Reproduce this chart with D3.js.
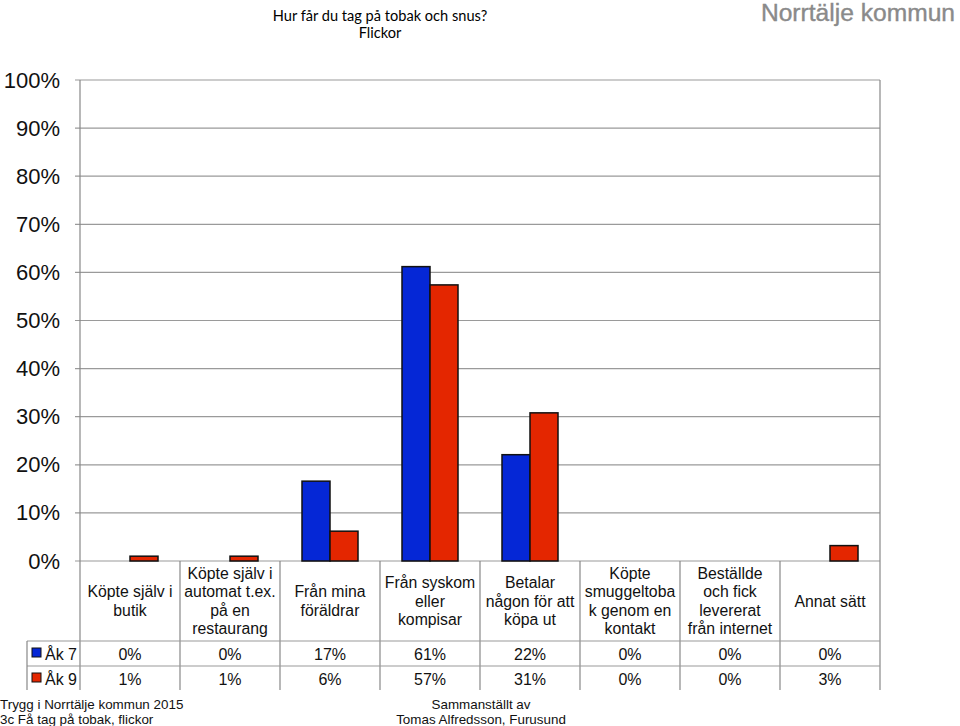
<!DOCTYPE html>
<html>
<head>
<meta charset="utf-8">
<script src="https://cdn.jsdelivr.net/npm/d3@7"></script>
<style>
  body { margin: 0; background: #fff; }
  text { font-family: "Liberation Sans", Arial, sans-serif; }
</style>
</head>
<body>
<div id="chart"></div>
<script>
var categories = [
    ["Köpte själv i", "butik"],
    ["Köpte själv i", "automat t.ex.", "på en", "restaurang"],
    ["Från mina", "föräldrar"],
    ["Från syskom", "eller", "kompisar"],
    ["Betalar", "någon för att", "köpa ut"],
    ["Köpte", "smuggeltoba", "k genom en", "kontakt"],
    ["Beställde", "och fick", "levererat", "från internet"],
    ["Annat sätt"]
];
var seriesNames = ["Åk 7", "Åk 9"];
var seriesColors = ["#0527d6", "#e42600"];
var ak7 = [0, 0, 16.6, 61.2, 22.1, 0, 0, 0];
var ak9 = [1.0, 1.0, 6.2, 57.4, 30.8, 0, 0, 3.2];
var yTicks = [0, 10, 20, 30, 40, 50, 60, 70, 80, 90, 100];

function createChart(div) {
    var svg = d3.select(div)
        .append("svg")
        .attr("width", 960)
        .attr("height", 726);

    var series = [ak7, ak9];
    var idx = categories.map(function(d, i) { return i; });

    var x = d3.scaleBand().domain(idx).range([80, 880]);
    var xs = d3.scaleBand().domain([0, 1])
        .range([x.bandwidth() * 0.22, x.bandwidth() * 0.78]);
    var y = d3.scaleLinear().domain([0, 100]).range([561, 80]);

    // titles
    svg.append("text").attr("x", 380).attr("y", 21)
        .attr("text-anchor", "middle")
        .style("font-family", "Lato, 'Open Sans', sans-serif")
        .style("font-size", "14.6px")
        .text("Hur får du tag på tobak och snus?");
    svg.append("text").attr("x", 380).attr("y", 38)
        .attr("text-anchor", "middle")
        .style("font-family", "Lato, 'Open Sans', sans-serif")
        .style("font-size", "14.6px")
        .text("Flickor");
    svg.append("text").attr("x", 955).attr("y", 21)
        .attr("text-anchor", "end")
        .style("font-size", "24.6px")
        .attr("fill", "#8a8a8a")
        .attr("stroke", "#8a8a8a")
        .attr("stroke-width", 0.4)
        .text("Norrtälje kommun");

    // grid
    svg.selectAll(".grid")
        .data(yTicks)
        .enter().append("line")
        .attr("x1", 75).attr("x2", 880)
        .attr("y1", function(d) { return y(d); })
        .attr("y2", function(d) { return y(d); })
        .attr("stroke", "#9a9a9a")
        .attr("stroke-width", 1.2);

    // y axis
    var yAxis = d3.axisLeft(y)
        .tickValues(yTicks)
        .tickFormat(function(d) { return d + "%"; })
        .tickSize(0)
        .tickPadding(20);
    var ga = svg.append("g").attr("transform", "translate(80,0)").call(yAxis);
    ga.select(".domain").remove();
    ga.selectAll("text")
        .style("font-size", "22px")
        .attr("fill", "#111");

    svg.append("line")
        .attr("x1", 80).attr("x2", 80).attr("y1", 80).attr("y2", 690)
        .attr("stroke", "#888").attr("stroke-width", 1.2);
    svg.append("line")
        .attr("x1", 880).attr("x2", 880).attr("y1", 80).attr("y2", 690)
        .attr("stroke", "#888").attr("stroke-width", 1.2);

    // bars
    series.forEach(function(vals, s) {
        svg.selectAll(".bar" + s)
            .data(vals.map(function(v, i) { return {v: v, i: i}; })
                .filter(function(d) { return d.v > 0; }))
            .enter().append("rect")
            .attr("x", function(d) { return x(d.i) + xs(s); })
            .attr("y", function(d) { return y(d.v); })
            .attr("width", xs.bandwidth())
            .attr("height", function(d) { return y(0) - y(d.v); })
            .attr("fill", seriesColors[s])
            .attr("stroke", "#111")
            .attr("stroke-width", 1.5);
    });

    // table lines
    svg.selectAll(".vline")
        .data(idx.slice(1))
        .enter().append("line")
        .attr("x1", function(d) { return x(d); })
        .attr("x2", function(d) { return x(d); })
        .attr("y1", 561).attr("y2", 690)
        .attr("stroke", "#888").attr("stroke-width", 1.2);
    [641, 666].forEach(function(yy) {
        svg.append("line")
            .attr("x1", 27).attr("x2", 880).attr("y1", yy).attr("y2", yy)
            .attr("stroke", "#999").attr("stroke-width", 1.2);
    });
    svg.append("line")
        .attr("x1", 27).attr("x2", 27).attr("y1", 641).attr("y2", 690)
        .attr("stroke", "#888").attr("stroke-width", 1.2);

    // category labels
    var lh = 18.5;
    svg.selectAll(".cat")
        .data(categories)
        .enter().append("text")
        .attr("text-anchor", "middle")
        .style("font-size", "15.8px")
        .attr("fill", "#111")
        .each(function(lines, i) {
            var t = d3.select(this);
            var cx = x(i) + x.bandwidth() / 2;
            var y0 = 601 - (lines.length - 1) * lh / 2 + 5.5;
            lines.forEach(function(l, k) {
                t.append("tspan").attr("x", cx).attr("y", y0 + k * lh).text(l);
            });
        });

    // rows
    series.forEach(function(vals, s) {
        var ry = 660 + s * 25;
        svg.append("rect")
            .attr("x", 32).attr("y", ry - 12)
            .attr("width", 9).attr("height", 9)
            .attr("fill", seriesColors[s])
            .attr("stroke", "#111").attr("stroke-width", 1);
        svg.append("text").attr("x", 45).attr("y", ry)
            .style("font-size", "16px").attr("fill", "#111")
            .text(seriesNames[s]);
        svg.selectAll(".val" + s)
            .data(vals)
            .enter().append("text")
            .attr("x", function(d, i) { return x(i) + x.bandwidth() / 2; })
            .attr("y", ry)
            .attr("text-anchor", "middle")
            .style("font-size", "16px").attr("fill", "#111")
            .text(function(d) { return Math.round(d) + "%"; });
    });

    // footer
    svg.append("text").attr("x", 0).attr("y", 709)
        .style("font-size", "13.4px").attr("fill", "#111")
        .text("Trygg i Norrtälje kommun 2015");
    svg.append("text").attr("x", 0).attr("y", 724)
        .style("font-size", "13.4px").attr("fill", "#111")
        .text("3c Få tag på tobak, flickor");
    svg.append("text").attr("x", 481).attr("y", 709)
        .attr("text-anchor", "middle")
        .style("font-size", "13.4px").attr("fill", "#111")
        .text("Sammanställt av");
    svg.append("text").attr("x", 481).attr("y", 724)
        .attr("text-anchor", "middle")
        .style("font-size", "13.4px").attr("fill", "#111")
        .text("Tomas Alfredsson, Furusund");
}

createChart("#chart");
</script>
</body>
</html>
